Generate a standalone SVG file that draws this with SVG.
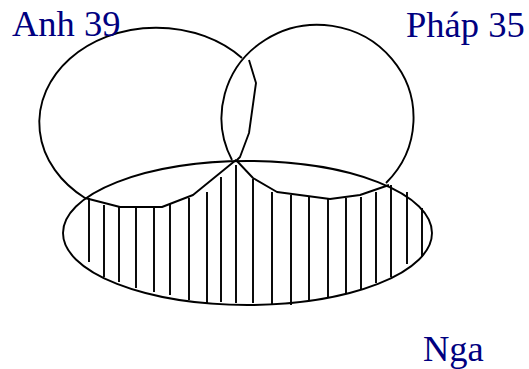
<svg xmlns="http://www.w3.org/2000/svg" width="529" height="369" viewBox="0 0 529 369">
<style>
.ln{fill:none;stroke:#000;stroke-width:1.9;stroke-linejoin:round;stroke-linecap:butt}
.lb{font-family:"Liberation Serif","Times New Roman",serif;font-size:36.5px;fill:#000080}
</style>
<rect width="529" height="369" fill="#fff"/>
<g id="nga">
<ellipse class="ln" cx="247.5" cy="233" rx="184.5" ry="72"/>
<text class="lb" x="423" y="361">Nga</text>
</g>
<g id="anh">
<path class="ln" d="M242,58 A117,95 0 1 0 85,198"/>
<polyline class="ln" points="249,60 256,83 255,90 249,133 240,157 237,160"/>
<text class="lb" x="12" y="36">Anh 39</text>
</g>
<g id="phap">
<path class="ln" d="M232,160 A96,93 0 1 1 386,183"/>
<text class="lb" x="406" y="37">Pháp 35</text>
</g>
<g id="hatch">
<polyline class="ln" points="85,198 120,207 162,207 193,195 236,160 253,178 277,192 330,199 360,195 389,185"/>
<path class="ln" d="M89,198V262 M104,205V277 M119,207V282 M136,207V288 M154,207V292 M170,204V295 M189,198V300 M207,192V303 M221,177V302 M236,165V303 M253,179V303 M272,192V305 M291,195V305 M309,197V301 M328,199V298 M346,198V294 M361,197V289 M376,192V283 M391,185V277 M407,192V264 M422,208V257"/>
</g>
</svg>
